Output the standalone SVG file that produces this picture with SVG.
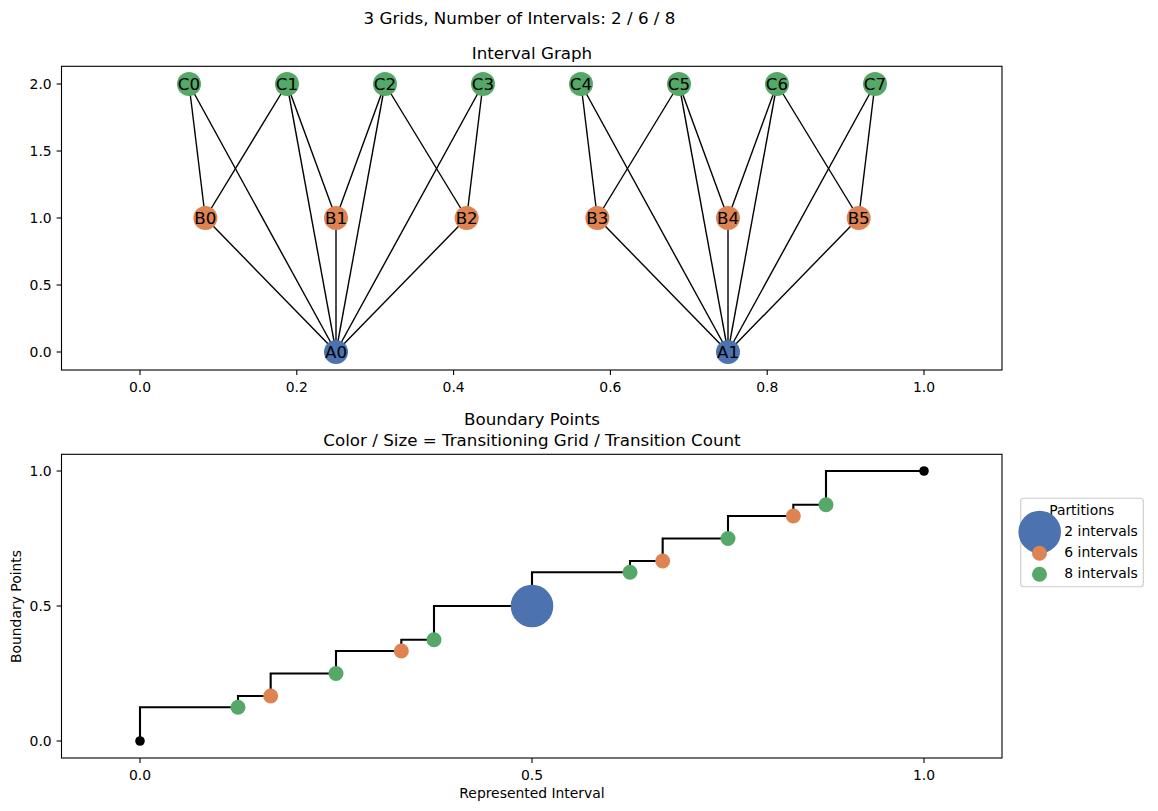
<svg xmlns="http://www.w3.org/2000/svg" width="1158" height="811" viewBox="0 0 1158 811">
<style>
text{font-family:"DejaVu Sans","Liberation Sans",sans-serif;fill:#000}
.title{font-size:16.7px;text-anchor:middle}
.tick{font-size:13.9px}
.tx{text-anchor:middle}
.ty{text-anchor:end}
.lbl{font-size:13.9px;text-anchor:middle}
.spine{fill:none;stroke:#000;stroke-width:1.1}
.tk{stroke:#000;stroke-width:1.1}
.edge{stroke:#000;stroke-width:1.4}
.nl{font-size:16.7px;text-anchor:middle;dominant-baseline:central}
.cC{fill:#55A868}
.cB{fill:#DD8452}
.cA{fill:#4C72B0}
.leg{font-size:13.9px}
</style>
<rect width="1158" height="811" fill="#fff"/>
<text class="title" x="519.5" y="24">3 Grids, Number of Intervals: 2 / 6 / 8</text>

<!-- Top axes -->
<g id="top-axes">
<text class="title" x="532" y="59">Interval Graph</text>
<rect class="spine" x="61.5" y="66.3" width="940.5" height="303.7"/>
<g class="tk">
<line x1="140" y1="370" x2="140" y2="374.9"/><line x1="296.8" y1="370" x2="296.8" y2="374.9"/><line x1="453.6" y1="370" x2="453.6" y2="374.9"/><line x1="610.4" y1="370" x2="610.4" y2="374.9"/><line x1="767.2" y1="370" x2="767.2" y2="374.9"/><line x1="924" y1="370" x2="924" y2="374.9"/>
<line x1="56.6" y1="84" x2="61.5" y2="84"/><line x1="56.6" y1="151" x2="61.5" y2="151"/><line x1="56.6" y1="218" x2="61.5" y2="218"/><line x1="56.6" y1="285" x2="61.5" y2="285"/><line x1="56.6" y1="352" x2="61.5" y2="352"/>
</g>
<g class="tick tx">
<text x="140" y="391.5">0.0</text><text x="296.8" y="391.5">0.2</text><text x="453.6" y="391.5">0.4</text><text x="610.4" y="391.5">0.6</text><text x="767.2" y="391.5">0.8</text><text x="924" y="391.5">1.0</text>
</g>
<g class="tick ty">
<text x="51.7" y="89">2.0</text><text x="51.7" y="156">1.5</text><text x="51.7" y="223">1.0</text><text x="51.7" y="290">0.5</text><text x="51.7" y="357">0.0</text>
</g>
</g>

<g id="connectors" class="edge">
<line x1="189" y1="84" x2="205.33" y2="218"/>
<line x1="189" y1="84" x2="336" y2="352"/>
<line x1="287" y1="84" x2="205.33" y2="218"/>
<line x1="287" y1="84" x2="336" y2="218"/>
<line x1="287" y1="84" x2="336" y2="352"/>
<line x1="385" y1="84" x2="336" y2="218"/>
<line x1="385" y1="84" x2="466.67" y2="218"/>
<line x1="385" y1="84" x2="336" y2="352"/>
<line x1="483" y1="84" x2="466.67" y2="218"/>
<line x1="483" y1="84" x2="336" y2="352"/>
<line x1="205.33" y1="218" x2="336" y2="352"/>
<line x1="336" y1="218" x2="336" y2="352"/>
<line x1="466.67" y1="218" x2="336" y2="352"/>
<line x1="581" y1="84" x2="597.33" y2="218"/>
<line x1="581" y1="84" x2="728" y2="352"/>
<line x1="679" y1="84" x2="597.33" y2="218"/>
<line x1="679" y1="84" x2="728" y2="218"/>
<line x1="679" y1="84" x2="728" y2="352"/>
<line x1="777" y1="84" x2="728" y2="218"/>
<line x1="777" y1="84" x2="858.67" y2="218"/>
<line x1="777" y1="84" x2="728" y2="352"/>
<line x1="875" y1="84" x2="858.67" y2="218"/>
<line x1="875" y1="84" x2="728" y2="352"/>
<line x1="597.33" y1="218" x2="728" y2="352"/>
<line x1="728" y1="218" x2="728" y2="352"/>
<line x1="858.67" y1="218" x2="728" y2="352"/>
</g>

<g id="C0"><circle class="cC" cx="189" cy="84" r="12"/><text class="nl" x="189" y="84">C0</text></g>
<g id="C1"><circle class="cC" cx="287" cy="84" r="12"/><text class="nl" x="287" y="84">C1</text></g>
<g id="C2"><circle class="cC" cx="385" cy="84" r="12"/><text class="nl" x="385" y="84">C2</text></g>
<g id="C3"><circle class="cC" cx="483" cy="84" r="12"/><text class="nl" x="483" y="84">C3</text></g>
<g id="C4"><circle class="cC" cx="581" cy="84" r="12"/><text class="nl" x="581" y="84">C4</text></g>
<g id="C5"><circle class="cC" cx="679" cy="84" r="12"/><text class="nl" x="679" y="84">C5</text></g>
<g id="C6"><circle class="cC" cx="777" cy="84" r="12"/><text class="nl" x="777" y="84">C6</text></g>
<g id="C7"><circle class="cC" cx="875" cy="84" r="12"/><text class="nl" x="875" y="84">C7</text></g>
<g id="B0"><circle class="cB" cx="205.33" cy="218" r="12"/><text class="nl" x="205.33" y="218">B0</text></g>
<g id="B1"><circle class="cB" cx="336" cy="218" r="12"/><text class="nl" x="336" y="218">B1</text></g>
<g id="B2"><circle class="cB" cx="466.67" cy="218" r="12"/><text class="nl" x="466.67" y="218">B2</text></g>
<g id="B3"><circle class="cB" cx="597.33" cy="218" r="12"/><text class="nl" x="597.33" y="218">B3</text></g>
<g id="B4"><circle class="cB" cx="728" cy="218" r="12"/><text class="nl" x="728" y="218">B4</text></g>
<g id="B5"><circle class="cB" cx="858.67" cy="218" r="12"/><text class="nl" x="858.67" y="218">B5</text></g>
<g id="A0"><circle class="cA" cx="336" cy="352" r="12"/><text class="nl" x="336" y="352">A0</text></g>
<g id="A1"><circle class="cA" cx="728" cy="352" r="12"/><text class="nl" x="728" y="352">A1</text></g>

<!-- Bottom axes -->
<g id="bottom-axes">
<text class="title" x="532" y="425">Boundary Points</text>
<text class="title" x="532" y="445.5">Color / Size = Transitioning Grid / Transition Count</text>
<rect class="spine" x="61.5" y="454.3" width="940.5" height="303.7"/>
<g class="tk">
<line x1="140" y1="758" x2="140" y2="762.9"/><line x1="532" y1="758" x2="532" y2="762.9"/><line x1="924" y1="758" x2="924" y2="762.9"/>
<line x1="56.6" y1="471" x2="61.5" y2="471"/><line x1="56.6" y1="606" x2="61.5" y2="606"/><line x1="56.6" y1="741" x2="61.5" y2="741"/>
</g>
<g class="tick tx">
<text x="140" y="779.5">0.0</text><text x="532" y="779.5">0.5</text><text x="924" y="779.5">1.0</text>
</g>
<g class="tick ty">
<text x="51.7" y="476">1.0</text><text x="51.7" y="611">0.5</text><text x="51.7" y="746">0.0</text>
</g>
<text class="lbl" x="532" y="798">Represented Interval</text>
<text class="lbl" transform="translate(21,606.5) rotate(-90)">Boundary Points</text>
</g>

<g id="step">
<path d="M140,741 V707.25 H238 V696 H270.67 V673.5 H336 V651 H401.33 V639.75 H434 V606 H532 V572.25 H630 V561 H662.67 V538.5 H728 V516 H793.33 V504.75 H826 V471 H924" fill="none" stroke="#000" stroke-width="2.1"/>
</g>
<g id="points">
<circle cx="140" cy="741" r="4.8" fill="#000"/>
<circle cx="924" cy="471" r="4.8" fill="#000"/>
<circle class="cC" cx="238" cy="707.25" r="7.5"/>
<circle class="cB" cx="270.67" cy="696" r="7.5"/>
<circle class="cC" cx="336" cy="673.5" r="7.5"/>
<circle class="cB" cx="401.33" cy="651" r="7.5"/>
<circle class="cC" cx="434" cy="639.75" r="7.5"/>
<circle class="cA" cx="532" cy="606" r="21.3"/>
<circle class="cC" cx="630" cy="572.25" r="7.5"/>
<circle class="cB" cx="662.67" cy="561" r="7.5"/>
<circle class="cC" cx="728" cy="538.5" r="7.5"/>
<circle class="cB" cx="793.33" cy="516" r="7.5"/>
<circle class="cC" cx="826" cy="504.75" r="7.5"/>
</g>

<g id="legend">
<rect x="1020.7" y="498.3" width="122.6" height="88.4" rx="3" fill="#fff" fill-opacity="0.8" stroke="#cccccc" stroke-width="1.1"/>
<text class="leg" x="1081.7" y="515" text-anchor="middle">Partitions</text>
<circle class="cA" cx="1039.7" cy="532" r="21.3"/>
<circle class="cB" cx="1039.5" cy="553.3" r="7.5"/>
<circle class="cC" cx="1039.5" cy="574.3" r="7.5"/>
<text class="leg" x="1064.3" y="536">2 intervals</text>
<text class="leg" x="1064.3" y="557">6 intervals</text>
<text class="leg" x="1064.3" y="578">8 intervals</text>
</g>
</svg>
